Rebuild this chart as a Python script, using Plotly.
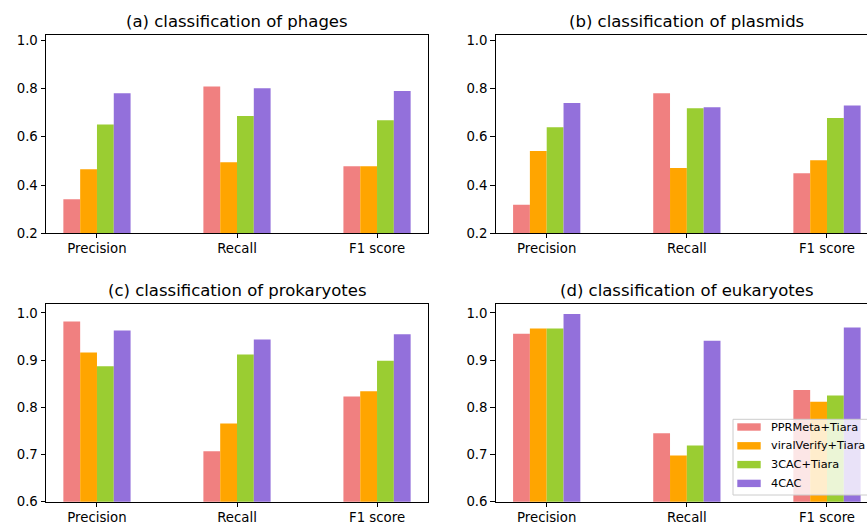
import plotly.graph_objects as go

# Metric categories and tools being compared
categories = ["Precision", "Recall", "F1 score"]
methods = ["PPRMeta+Tiara", "viralVerify+Tiara", "3CAC+Tiara", "4CAC"]
colors = ["#F08080", "#FFA500", "#9ACD32", "#9370DB"]

# Scores per method (rows follow `methods`, columns follow `categories`)
phage_scores = [
    [0.341, 0.809, 0.478],
    [0.466, 0.495, 0.478],
    [0.651, 0.686, 0.669],
    [0.781, 0.801, 0.790],
]
plasmid_scores = [
    [0.318, 0.781, 0.449],
    [0.541, 0.471, 0.503],
    [0.640, 0.719, 0.678],
    [0.740, 0.723, 0.730],
]
prokaryote_scores = [
    [0.982, 0.707, 0.823],
    [0.916, 0.766, 0.834],
    [0.887, 0.912, 0.899],
    [0.963, 0.944, 0.955],
]
eukaryote_scores = [
    [0.956, 0.745, 0.837],
    [0.967, 0.698, 0.812],
    [0.967, 0.719, 0.825],
    [0.998, 0.941, 0.969],
]

titles = [
    "(a) classification of phages",
    "(b) classification of plasmids",
    "(c) classification of prokaryotes",
    "(d) classification of eukaryotes",
]
panels = [phage_scores, plasmid_scores, prokaryote_scores, eukaryote_scores]

W, H = 867, 522
FONT = "DejaVu Sans"

# Panel boxes in pixels: (left, right, top, bottom); right-hand panels run past the page edge
full_right = 878.0
boxes = [
    (46.0, 428.0, 34.7, 233.3),
    (495.7, full_right, 34.7, 233.3),
    (46.0, 428.0, 304.3, 501.7),
    (495.7, full_right, 304.3, 501.7),
]
y_ranges = [[0.2, 1.0235], [0.2, 1.0235], [0.6, 1.0184], [0.6, 1.0184]]
y_ticks = [
    [0.2, 0.4, 0.6, 0.8, 1.0],
    [0.2, 0.4, 0.6, 0.8, 1.0],
    [0.6, 0.7, 0.8, 0.9, 1.0],
    [0.6, 0.7, 0.8, 0.9, 1.0],
]
x_lo, x_hi = -0.364, 2.364


def px(x):
    return x / W


def py(y):
    return 1 - y / H


fig = go.Figure()
layout = {}
annotations = []
shapes = []

for p, (scores, title, box) in enumerate(zip(panels, titles, boxes)):
    sfx = "" if p == 0 else str(p + 1)
    left, right, top, bottom = box
    px_per_unit = (right - left) / (x_hi - x_lo)
    vis_right = min(right, W)
    xr = [x_lo, x_lo + (vis_right - left) / px_per_unit]
    clipped = right > W

    for m, (name, col) in enumerate(zip(methods, colors)):
        fig.add_trace(go.Bar(
            x=[0, 1, 2], y=scores[m], name=name,
            marker=dict(color=col, line=dict(width=0)),
            showlegend=False,
            xaxis="x" + sfx, yaxis="y" + sfx,
        ))

    layout["xaxis" + sfx] = dict(
        domain=[px(left), px(vis_right)], range=xr, anchor="y" + sfx,
        tickmode="array", tickvals=[0, 1, 2], ticktext=categories,
        showline=True, linecolor="black", linewidth=1, mirror=True,
        ticks="outside", ticklen=4, tickcolor="black", tickwidth=1,
        ticklabelstandoff=-1,
        showgrid=False, zeroline=False,
        tickfont=dict(family=FONT, size=13.3, color="black"),
    )
    layout["yaxis" + sfx] = dict(
        domain=[py(bottom), py(top)], range=y_ranges[p], anchor="x" + sfx,
        tickmode="array", tickvals=y_ticks[p], tickformat=".1f",
        showline=True, linecolor="black", linewidth=1, mirror=not clipped,
        ticks="outside", ticklen=4.5, tickcolor="black", tickwidth=1,
        showgrid=False, zeroline=False,
        tickfont=dict(family=FONT, size=13.3, color="black"),
    )
    annotations.append(dict(
        text=title, xref="paper", yref="paper",
        x=px((left + right) / 2), y=py(top - 2),
        xanchor="center", yanchor="bottom", showarrow=False,
        font=dict(family=FONT, size=16.5, color="black"),
    ))

# Legend drawn inside panel (d): translucent framed box, colour patches and labels
lg_left, lg_top, lg_bottom = 733.0, 419.3, 495.0
shapes.append(dict(
    type="rect", xref="paper", yref="paper",
    x0=px(lg_left), x1=px(lg_left + 150), y0=py(lg_bottom), y1=py(lg_top),
    fillcolor="rgba(255,255,255,0.8)", line=dict(color="#cccccc", width=1),
    layer="above",
))
row_y = [427.0, 445.8, 464.6, 483.4]
for name, col, ry in zip(methods, colors, row_y):
    shapes.append(dict(
        type="rect", xref="paper", yref="paper",
        x0=px(737.3), x1=px(760.7), y0=py(ry + 3.7), y1=py(ry - 3.7),
        fillcolor=col, line=dict(width=0), layer="above",
    ))
    annotations.append(dict(
        text=name, xref="paper", yref="paper",
        x=px(770.0), y=py(ry), xanchor="left", yanchor="middle",
        showarrow=False, borderpad=0,
        font=dict(family=FONT, size=11.3, color="black"),
    ))

fig.update_layout(
    width=W, height=H,
    margin=dict(l=0, r=0, t=0, b=0, autoexpand=False),
    paper_bgcolor="white", plot_bgcolor="white",
    template="none",
    barmode="group", bargap=0.52, bargroupgap=0,
    font=dict(family=FONT, color="black"),
    showlegend=False,
    annotations=annotations,
    shapes=shapes,
    **layout,
)

fig.write_html("out.html")
